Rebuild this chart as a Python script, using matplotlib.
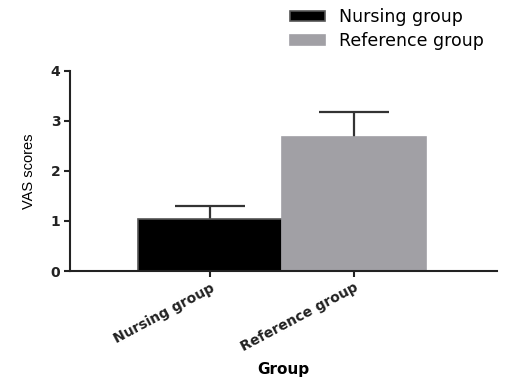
import matplotlib
matplotlib.use("Agg")
import matplotlib.pyplot as plt
from matplotlib.patches import Patch

groups = ["Nursing group", "Reference group"]
means = [1.03, 2.68]
sds = [0.27, 0.50]
colors = ["#000000", "#a1a0a5"]
edge_colors = ["#555555", "#a1a0a5"]
yticks = [0, 1, 2, 3, 4]

plt.rcParams["font.family"] = ["DejaVu Sans"]

fig = plt.figure(figsize=(5.21, 3.8), dpi=100)
ax = fig.add_axes([0.1344, 0.2868, 0.8196, 0.5272])

x = list(range(len(groups)))
# error bars sit behind the bars so only the upper half shows
ax.errorbar(x, means, yerr=sds, fmt="none", ecolor="#333333",
            elinewidth=1.6, capsize=25, capthick=1.6, zorder=1)
ax.bar(x, means, width=1.0, color=colors, edgecolor=edge_colors, linewidth=1.2, zorder=2)

ax.set_xlim(-0.97, 1.99)
ax.set_ylim(0, 4)
ax.set_yticks(yticks)
ax.set_yticklabels([str(t) for t in yticks], fontsize=10, fontweight="bold")
ax.set_xticks(x)
ax.set_xticklabels(groups, rotation=28, ha="right", rotation_mode="anchor",
                   fontsize=10, fontweight="bold")
for s in ["top", "right"]:
    ax.spines[s].set_visible(False)
for s in ["left", "bottom"]:
    ax.spines[s].set_linewidth(1.5)
    ax.spines[s].set_color("#222222")
ax.tick_params(direction="out", length=4, width=1.5, colors="#222222", pad=3)

ax.set_ylabel("VAS scores", fontsize=10.5,
              family=["Liberation Sans", "DejaVu Sans"])
ax.yaxis.set_label_coords(-0.08, 0.5)
ax.set_xlabel("Group", fontsize=11, fontweight="bold")
ax.xaxis.set_label_coords(0.5, -0.455)

handles = [Patch(facecolor=c, edgecolor=e, linewidth=1.2) for c, e in zip(colors, edge_colors)]
fig.legend(handles, groups, loc="upper left", bbox_to_anchor=(0.5566, 0.978),
           frameon=False, fontsize=12.5, handlelength=2.0, handleheight=0.55,
           handletextpad=0.85, labelspacing=0.32, borderpad=0, borderaxespad=0)

fig.savefig("out.png", dpi=100)
